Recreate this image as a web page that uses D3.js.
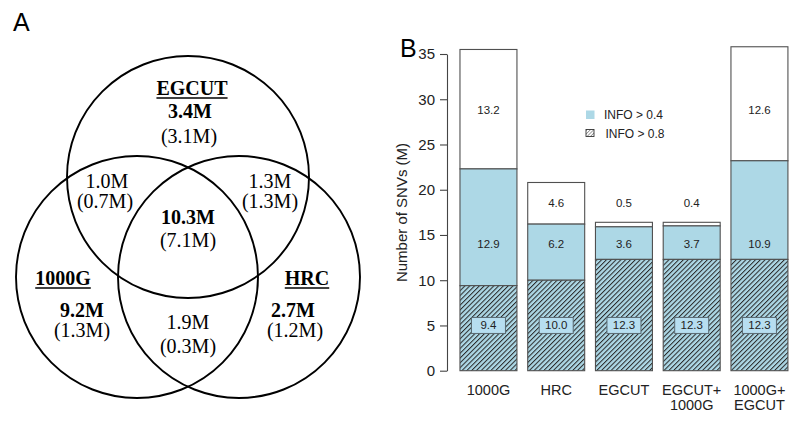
<!DOCTYPE html>
<html><head><meta charset="utf-8">
<script src="https://cdn.jsdelivr.net/npm/d3@7"></script>
<style>body{margin:0;background:#fff}</style>
</head><body>
<svg id="c" width="800" height="423"></svg>
<script>
// ---------- DATA ----------
const categories = ["1000G", "HRC", "EGCUT", "EGCUT+\n1000G", "1000G+\nEGCUT"];
const info08 = [9.4, 10.0, 12.3, 12.3, 12.3];      // hatched (INFO > 0.8)
const info04 = [12.9, 6.2, 3.6, 3.7, 10.9];        // light blue (0.4 < INFO <= 0.8)
const remaining = [13.2, 4.6, 0.5, 0.4, 12.6];     // white (INFO <= 0.4)
const yTicks = [0, 5, 10, 15, 20, 25, 30, 35];
const legendLabels = ["INFO > 0.4", "INFO > 0.8"];

const vennSets = ["EGCUT", "1000G", "HRC"];
const vennSetMain = ["3.4M", "9.2M", "2.7M"];
const vennSetSub = ["(3.1M)", "(1.3M)", "(1.2M)"];
const vennPairMain = ["1.0M", "1.3M", "1.9M"];   // EGCUT&1000G, EGCUT&HRC, 1000G&HRC
const vennPairSub = ["(0.7M)", "(1.3M)", "(0.3M)"];
const vennCoreMain = "10.3M";
const vennCoreSub = "(7.1M)";

// ---------- SETUP ----------
const svg = d3.select("#c");
const sans = "'Liberation Sans', Arial, Helvetica, sans-serif";
const serif = "'Liberation Serif', 'Times New Roman', serif";

// panel letters
svg.append("text").attr("x", 13).attr("y", 31).attr("font-family", sans)
  .attr("font-size", 25).text("A");
svg.append("text").attr("x", 400).attr("y", 57).attr("font-family", sans)
  .attr("font-size", 25).text("B");

// ---------- VENN ----------
const vx = d3.scaleLinear().domain([-1, 1]).range([137, 239]);
const vy = d3.scaleLinear().domain([0, 1]).range([177, 277]);
const vr = 121;
const circleLayout = [[0, 0], [-1, 1], [1, 1]]; // EGCUT, 1000G, HRC
const gV = svg.append("g");
gV.selectAll("circle").data(vennSets).join("circle")
  .attr("cx", (d, i) => vx(circleLayout[i][0]))
  .attr("cy", (d, i) => vy(circleLayout[i][1]))
  .attr("r", vr).attr("fill", "none").attr("stroke", "#000").attr("stroke-width", 1.9);

function vtext(x, y, t, bold, underline) {
  const el = gV.append("text").attr("x", x).attr("y", y).attr("text-anchor", "middle")
    .attr("font-family", serif).attr("font-size", 20)
    .attr("font-weight", bold ? "bold" : "normal").attr("fill", "#000").text(t);
  if (underline) {
    const w = el.node().getComputedTextLength();
    gV.append("line").attr("x1", x - w / 2).attr("x2", x + w / 2)
      .attr("y1", y + 3).attr("y2", y + 3).attr("stroke", "#000").attr("stroke-width", 1.6);
  }
}
// set-only regions
const setPos = [[192, 95, 190, 118, 189, 143], [63, 285, 82, 317, 82, 337], [307, 285, 293, 317, 295, 337]];
vennSets.forEach((s, i) => {
  const p = setPos[i];
  vtext(p[0], p[1], s, true, true);
  vtext(p[2], p[3], vennSetMain[i], true, false);
  vtext(p[4], p[5], vennSetSub[i], false, false);
});
const pairPos = [[107, 188, 105, 208], [270, 188, 270, 208], [188, 329, 188, 353]];
vennPairMain.forEach((t, i) => {
  const p = pairPos[i];
  vtext(p[0], p[1], t, false, false);
  vtext(p[2], p[3], vennPairSub[i], false, false);
});
vtext(188, 224, vennCoreMain, true, false);
vtext(188, 247, vennCoreSub, false, false);

// ---------- BAR CHART ----------
const defs = svg.append("defs");
const pat = defs.append("pattern").attr("id", "hatch").attr("patternUnits", "userSpaceOnUse")
  .attr("width", 3.4).attr("height", 3.4).attr("patternTransform", "rotate(45)");
pat.append("rect").attr("width", 3.4).attr("height", 3.4).attr("fill", "#add8e6");
pat.append("line").attr("x1", 0.5).attr("y1", 0).attr("x2", 0.5).attr("y2", 3.4)
  .attr("stroke", "#2a2a2a").attr("stroke-width", 1.05);
const pat2 = defs.append("pattern").attr("id", "hatchW").attr("patternUnits", "userSpaceOnUse")
  .attr("width", 2.4).attr("height", 2.4).attr("patternTransform", "rotate(45)");
pat2.append("rect").attr("width", 2.4).attr("height", 2.4).attr("fill", "#fff");
pat2.append("line").attr("x1", 0).attr("y1", 0).attr("x2", 0).attr("y2", 2.4)
  .attr("stroke", "#333").attr("stroke-width", 0.9);

const x = d3.scaleBand().domain(categories).range([453.2, 794.7])
  .paddingInner(0.159).paddingOuter(0.1);
const y = d3.scaleLinear().domain([0, 35]).range([370.7, 54]);

const rows = categories.map((c, i) => ({
  c, a: info08[i], b: info04[i], w: remaining[i],
  t1: info08[i], t2: info08[i] + info04[i], t3: info08[i] + info04[i] + remaining[i]
}));

const gB = svg.append("g");
const stroke = "#505050";
// white segment
gB.selectAll("rect.w").data(rows).join("rect").attr("class", "w")
  .attr("x", d => x(d.c)).attr("width", x.bandwidth())
  .attr("y", d => y(d.t3)).attr("height", d => y(d.t2) - y(d.t3))
  .attr("fill", "#fff").attr("stroke", stroke).attr("stroke-width", 1.1);
// blue segment
gB.selectAll("rect.b").data(rows).join("rect").attr("class", "b")
  .attr("x", d => x(d.c)).attr("width", x.bandwidth())
  .attr("y", d => y(d.t2)).attr("height", d => y(d.t1) - y(d.t2))
  .attr("fill", "#add8e6").attr("stroke", stroke).attr("stroke-width", 1.1);
// hatched segment
gB.selectAll("rect.h").data(rows).join("rect").attr("class", "h")
  .attr("x", d => x(d.c)).attr("width", x.bandwidth())
  .attr("y", d => y(d.t1)).attr("height", d => y(0) - y(d.t1))
  .attr("fill", "url(#hatch)").attr("stroke", stroke).attr("stroke-width", 1.1);

const fs = 11.5;
// labels: white
gB.selectAll("text.lw").data(rows).join("text").attr("class", "lw")
  .attr("x", d => x(d.c) + x.bandwidth() / 2)
  .attr("y", d => y(d.t3 > 30 ? 28.8 : 18.5)).attr("dy", "0.35em")
  .attr("text-anchor", "middle").attr("font-family", sans).attr("font-size", fs)
  .attr("fill", "#222").text(d => d.w.toFixed(1));
// labels: blue
gB.selectAll("text.lb").data(rows).join("text").attr("class", "lb")
  .attr("x", d => x(d.c) + x.bandwidth() / 2)
  .attr("y", y(14)).attr("dy", "0.35em")
  .attr("text-anchor", "middle").attr("font-family", sans).attr("font-size", fs)
  .attr("fill", "#222").text(d => d.b.toFixed(1));
// labels: hatched with box
gB.selectAll("rect.lbox").data(rows).join("rect").attr("class", "lbox")
  .attr("x", d => x(d.c) + x.bandwidth() / 2 - 17).attr("width", 34)
  .attr("y", y(5) - 8).attr("height", 16)
  .attr("fill", "#b7def0").attr("stroke", "#5a6a72").attr("stroke-width", 1);
gB.selectAll("text.lh").data(rows).join("text").attr("class", "lh")
  .attr("x", d => x(d.c) + x.bandwidth() / 2)
  .attr("y", y(5)).attr("dy", "0.35em")
  .attr("text-anchor", "middle").attr("font-family", sans).attr("font-size", fs)
  .attr("fill", "#222").text(d => d.a.toFixed(1));

// y axis
const ax = svg.append("g").attr("transform", "translate(447,0)")
  .call(d3.axisLeft(y).tickValues(yTicks).tickSize(7).tickSizeOuter(0).tickPadding(5));
ax.selectAll("path,line").attr("stroke", "#444").attr("stroke-width", 1.1);
ax.selectAll("text").attr("font-family", sans).attr("font-size", 15).attr("fill", "#222");

svg.append("text").attr("transform", "translate(407,212.5) rotate(-90)")
  .attr("text-anchor", "middle").attr("font-family", sans).attr("font-size", 15)
  .attr("fill", "#222").text("Number of SNVs (M)");

// x labels
const xl = svg.append("g");
categories.forEach(c => {
  const parts = c.split("\n");
  parts.forEach((p, k) => {
    xl.append("text").attr("x", x(c) + x.bandwidth() / 2).attr("y", 395 + k * 14.5)
      .attr("text-anchor", "middle").attr("font-family", sans).attr("font-size", 14.5)
      .attr("fill", "#222").text(p);
  });
});

// legend
const lg = svg.append("g");
lg.append("rect").attr("x", 586).attr("y", 110.5).attr("width", 8.5).attr("height", 8.5)
  .attr("fill", "#add8e6");
lg.append("rect").attr("x", 586).attr("y", 129.5).attr("width", 8).attr("height", 7)
  .attr("fill", "url(#hatchW)").attr("stroke", "#333").attr("stroke-width", 0.9);
lg.selectAll("text").data(legendLabels).join("text")
  .attr("x", (d, i) => 604 + i * 1.5).attr("y", (d, i) => 115 + i * 18.5).attr("dy", "0.35em")
  .attr("font-family", sans).attr("font-size", 12).attr("fill", "#222").text(d => d);
</script>
</body></html>
